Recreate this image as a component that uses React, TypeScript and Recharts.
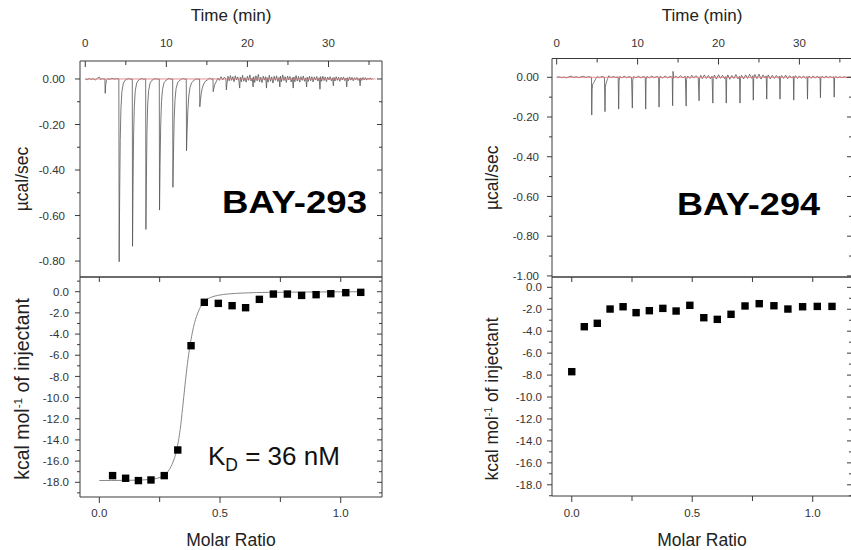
import React from 'react';
import { ComposedChart, Line, Scatter, XAxis, YAxis } from 'recharts';

type Pt = [number, number];

const FONT = '"Liberation Sans", Arial, Helvetica, sans-serif';
const INK = '#222';
const FRAME = '#3a3a3a';

// raw thermogram, BAY-293: [time (min), µcal/sec]
const rawBay293: Pt[] = [
  [0.0, 0.0], [0.25, -0.003], [0.5, 0.002], [0.75, -0.002], [1.0, 0.001], [1.25, -0.004], [1.5, 0.003],
  [1.75, 0.008], [1.9, -0.003], [2.1, 0.002], [2.3, -0.001], [2.42, 0.0], [2.46, -0.063], [2.52, -0.025],
  [2.62, -0.006], [2.8, 0.002], [3.0, -0.002], [3.3, 0.003], [3.6, -0.001], [3.9, 0.002], [4.14, 0.0],
  [4.18, -0.803], [4.24, -0.52], [4.31, -0.27], [4.4, -0.13], [4.52, -0.055], [4.7, -0.018], [4.95, -0.004],
  [5.3, 0.002], [5.6, -0.001], [5.8, 0.0],
  [5.83, -0.735], [5.89, -0.48], [5.96, -0.25], [6.05, -0.12], [6.17, -0.05], [6.35, -0.017], [6.6, -0.004],
  [6.95, 0.002], [7.25, -0.001], [7.45, 0.0],
  [7.48, -0.661], [7.54, -0.44], [7.61, -0.23], [7.7, -0.11], [7.82, -0.05], [8.0, -0.017], [8.25, -0.005],
  [8.6, 0.002], [8.9, -0.001], [9.13, 0.0],
  [9.16, -0.576], [9.22, -0.39], [9.3, -0.21], [9.4, -0.1], [9.53, -0.045], [9.72, -0.016], [9.98, -0.005],
  [10.3, 0.002], [10.6, -0.001], [10.78, 0.0],
  [10.81, -0.476], [10.88, -0.33], [10.96, -0.18], [11.07, -0.09], [11.2, -0.042], [11.4, -0.016], [11.68, -0.005],
  [12.0, 0.002], [12.3, -0.001], [12.46, 0.0],
  [12.49, -0.315], [12.56, -0.23], [12.65, -0.14], [12.77, -0.075], [12.92, -0.037], [13.12, -0.016], [13.4, -0.006],
  [13.7, 0.001], [13.95, -0.002], [14.1, 0.0],
  [14.13, -0.122], [14.2, -0.095], [14.3, -0.065], [14.43, -0.04], [14.6, -0.022], [14.82, -0.01], [15.1, -0.003],
  [15.35, 0.004], [15.6, -0.002], [15.75, 0.002],
  [15.78, -0.056], [15.86, -0.04], [15.98, -0.024], [16.15, -0.012], [16.35, 0.004], [16.55, -0.006], [16.75, 0.01],
  [16.95, -0.004], [17.15, 0.008], [17.35, 0.0],
  [17.4, -0.048], [17.48, -0.02], [17.6, 0.012], [17.75, -0.008], [17.9, 0.015], [18.05, -0.006], [18.2, 0.01],
  [18.35, -0.012], [18.5, 0.014], [18.65, -0.004], [18.8, 0.009], [18.95, -0.01],
  [19.05, -0.04], [19.12, 0.008], [19.25, -0.012], [19.4, 0.016], [19.55, -0.01], [19.7, 0.006], [19.85, -0.014],
  [20.0, 0.012], [20.15, -0.006], [20.3, 0.018], [20.45, -0.009], [20.6, 0.005],
  [20.7, -0.035], [20.78, 0.01], [20.9, -0.015], [21.05, 0.014], [21.2, -0.008], [21.35, 0.02], [21.5, -0.012],
  [21.65, 0.008], [21.8, -0.016], [21.95, 0.012], [22.1, -0.005], [22.25, 0.01],
  [22.35, -0.04], [22.43, 0.006], [22.55, -0.014], [22.7, 0.016], [22.85, -0.01], [23.0, 0.009], [23.15, -0.018],
  [23.3, 0.012], [23.45, -0.006], [23.6, 0.014], [23.75, -0.011], [23.9, 0.007],
  [24.0, -0.035], [24.08, 0.012], [24.2, -0.012], [24.35, 0.018], [24.5, -0.007], [24.65, 0.01], [24.8, -0.015],
  [24.95, 0.013], [25.1, -0.004], [25.25, 0.011], [25.4, -0.013], [25.55, 0.006],
  [25.65, -0.04], [25.73, 0.009], [25.85, -0.012], [26.0, 0.015], [26.15, -0.009], [26.3, 0.011], [26.45, -0.014],
  [26.6, 0.01], [26.75, -0.006], [26.9, 0.013], [27.05, -0.01], [27.2, 0.005],
  [27.3, -0.035], [27.38, 0.008], [27.5, -0.011], [27.65, 0.012], [27.8, -0.008], [27.95, 0.01], [28.1, -0.013],
  [28.25, 0.009], [28.4, -0.005], [28.55, 0.011], [28.7, -0.009], [28.85, 0.006],
  [28.95, -0.045], [29.03, 0.01], [29.15, -0.01], [29.3, 0.012], [29.45, -0.007], [29.6, 0.009], [29.75, -0.012],
  [29.9, 0.008], [30.05, -0.004], [30.2, 0.01], [30.35, -0.008], [30.5, 0.005],
  [30.6, -0.03], [30.68, 0.007], [30.8, -0.009], [30.95, 0.01], [31.1, -0.006], [31.25, 0.008], [31.4, -0.01],
  [31.55, 0.007], [31.7, -0.004], [31.85, 0.009], [32.0, -0.007], [32.15, 0.004],
  [32.25, -0.035], [32.33, 0.006], [32.45, -0.008], [32.6, 0.009], [32.75, -0.005], [32.9, 0.007], [33.05, -0.008],
  [33.2, 0.006], [33.35, -0.003], [33.5, 0.007], [33.65, -0.006], [33.8, 0.003],
  [33.9, -0.03], [33.98, 0.005], [34.1, -0.006], [34.25, 0.007], [34.4, -0.004], [34.55, 0.006], [34.7, -0.005],
  [34.85, 0.004], [35.0, -0.002], [35.15, 0.005], [35.3, -0.003], [35.45, 0.002],
];

// raw thermogram, BAY-294
const rawBay294: Pt[] = [
  [0.0, 0.0], [0.3, 0.002], [0.6, -0.002], [0.9, 0.001], [1.2, -0.003], [1.5, 0.002], [1.8, 0.006], [2.1, -0.001],
  [2.4, 0.003], [2.7, -0.002], [3.0, 0.002], [3.3, 0.005], [3.6, -0.001], [3.9, 0.003], [4.3, 0.0],
  [4.33, -0.19], [4.38, -0.06], [4.45, -0.035], [4.6, -0.025], [4.8, -0.01], [5.0, 0.003], [5.3, -0.002], [5.6, 0.004], [5.9, 0.0],
  [5.97, -0.173], [6.02, -0.05], [6.1, -0.03], [6.25, -0.012], [6.45, 0.008], [6.7, -0.002], [7.0, 0.004], [7.3, -0.001], [7.6, 0.002],
  [7.66, -0.16], [7.71, -0.02], [7.8, 0.004], [8.05, -0.003], [8.35, 0.005], [8.65, -0.002], [8.95, 0.003], [9.25, -0.001],
  [9.35, -0.155], [9.4, -0.015], [9.5, 0.003], [9.8, -0.002], [10.1, 0.005], [10.4, -0.003], [10.7, 0.004], [10.95, 0.0],
  [11.0, -0.16], [11.05, -0.012], [11.15, 0.004], [11.45, -0.003], [11.75, 0.006], [12.05, -0.002], [12.35, 0.004], [12.6, 0.0],
  [12.65, -0.15], [12.7, -0.01], [12.8, 0.005], [13.1, -0.004], [13.4, 0.007], [13.7, -0.003], [14.0, 0.004], [14.28, 0.0],
  [14.33, -0.143], [14.38, 0.03], [14.45, -0.005], [14.7, 0.006], [15.0, -0.004], [15.3, 0.008], [15.6, -0.003], [15.9, 0.005],
  [16.0, -0.145], [16.05, -0.01], [16.2, 0.006], [16.45, -0.006], [16.7, 0.01], [16.95, -0.004], [17.2, 0.008], [17.5, -0.003],
  [17.6, -0.118], [17.65, -0.008], [17.8, 0.01], [18.0, -0.007], [18.25, 0.012], [18.5, -0.006], [18.75, 0.009], [19.0, -0.008], [19.2, 0.006],
  [19.3, -0.13], [19.35, -0.006], [19.5, 0.011], [19.75, -0.009], [20.0, 0.013], [20.25, -0.005], [20.5, 0.01], [20.75, -0.007], [20.9, 0.004],
  [20.96, -0.13], [21.01, -0.008], [21.15, 0.012], [21.4, -0.01], [21.65, 0.009], [21.9, -0.006], [22.15, 0.014], [22.4, -0.008], [22.6, 0.005],
  [22.66, -0.13], [22.71, -0.005], [22.85, 0.01], [23.1, -0.008], [23.35, 0.012], [23.6, -0.006], [23.85, 0.015], [24.1, -0.005], [24.25, 0.008],
  [24.3, -0.115], [24.35, -0.004], [24.5, 0.014], [24.75, -0.007], [25.0, 0.016], [25.25, -0.009], [25.5, 0.012], [25.75, -0.004], [25.9, 0.007],
  [25.96, -0.11], [26.01, -0.006], [26.15, 0.012], [26.4, -0.008], [26.65, 0.01], [26.9, -0.006], [27.15, 0.009], [27.4, -0.005], [27.55, 0.006],
  [27.6, -0.11], [27.65, -0.004], [27.8, 0.009], [28.05, -0.006], [28.3, 0.011], [28.55, -0.007], [28.8, 0.008], [29.05, -0.004], [29.25, 0.005],
  [29.3, -0.115], [29.35, -0.005], [29.5, 0.008], [29.75, -0.006], [30.0, 0.007], [30.25, -0.005], [30.5, 0.006], [30.75, -0.004], [30.95, 0.004],
  [31.0, -0.11], [31.05, -0.004], [31.2, 0.006], [31.45, -0.005], [31.7, 0.007], [31.95, -0.004], [32.2, 0.005], [32.45, -0.003], [32.55, 0.003],
  [32.6, -0.103], [32.65, -0.004], [32.8, 0.005], [33.05, -0.004], [33.3, 0.006], [33.55, -0.003], [33.8, 0.004], [34.05, -0.002], [34.25, 0.003],
  [34.3, -0.1], [34.35, -0.003], [34.5, 0.004], [34.75, -0.003], [35.0, 0.003], [35.25, -0.002], [35.5, 0.002], [35.9, -0.001], [36.4, 0.0],
];

const baseline293: Pt[] = [[0, 0], [35.8, 0]];
const baseline294: Pt[] = [[0, 0], [36.4, 0]];

// integrated heats: [molar ratio, kcal/mol of injectant]
const heatsBay293: Pt[] = [
  [0.055, -17.37], [0.109, -17.62], [0.162, -17.84], [0.214, -17.78], [0.269, -17.37], [0.325, -14.95],
  [0.38, -5.1], [0.435, -1.0], [0.493, -1.1], [0.55, -1.32], [0.606, -1.51], [0.663, -0.72], [0.721, -0.22],
  [0.779, -0.22], [0.838, -0.35], [0.898, -0.28], [0.959, -0.19], [1.021, -0.09], [1.083, -0.06],
];
const fitBay293: Pt[] = [
  [0.0, -17.83], [0.05, -17.83], [0.1, -17.82], [0.15, -17.8], [0.2, -17.75], [0.24, -17.62], [0.27, -17.3],
  [0.29, -16.8], [0.305, -16.1], [0.32, -15.0], [0.335, -13.0], [0.345, -11.0], [0.355, -8.8], [0.365, -6.8],
  [0.375, -5.2], [0.385, -3.9], [0.395, -2.9], [0.41, -1.9], [0.425, -1.2], [0.44, -0.8], [0.46, -0.55],
  [0.49, -0.35], [0.53, -0.22], [0.6, -0.12], [0.7, -0.06], [0.85, -0.03], [1.0, -0.01], [1.09, 0.0],
];
const heatsBay294: Pt[] = [
  [0.0, -7.69], [0.052, -3.59], [0.106, -3.28], [0.159, -1.98], [0.213, -1.77], [0.267, -2.31], [0.322, -2.13],
  [0.378, -1.92], [0.433, -2.16], [0.49, -1.64], [0.548, -2.77], [0.604, -2.92], [0.661, -2.46], [0.719, -1.7],
  [0.778, -1.49], [0.839, -1.68], [0.897, -1.98], [0.958, -1.77], [1.019, -1.74], [1.08, -1.74],
];

// ticks
const timeTicks = [0, 5, 10, 15, 20, 25, 30, 35];
const timeMajor = [0, 10, 20, 30];
const ratioTicks = [0, 0.25, 0.5, 0.75, 1.0];
const ratioMajor = [0, 0.5, 1.0];
const rawTicks293 = [0, -0.1, -0.2, -0.3, -0.4, -0.5, -0.6, -0.7, -0.8];
const rawTicks294 = [0, -0.1, -0.2, -0.3, -0.4, -0.5, -0.6, -0.7, -0.8, -0.9, -1.0];
const rawMajor = [0, -0.2, -0.4, -0.6, -0.8, -1.0];
const heatTicks293 = [1, 0, -1, -2, -3, -4, -5, -6, -7, -8, -9, -10, -11, -12, -13, -14, -15, -16, -17, -18, -19];
const heatTicks294 = [0, -1, -2, -3, -4, -5, -6, -7, -8, -9, -10, -11, -12, -13, -14, -15, -16, -17, -18, -19];
const heatMajor = [0, -2, -4, -6, -8, -10, -12, -14, -16, -18];

const rows = (pts: Pt[]) => pts.map(([x, y]) => ({ x, y }));
const near = (a: number, b: number) => Math.abs(a - b) < 1e-6;

type Side = 'left' | 'right' | 'top' | 'bottom';

interface TickOpts {
  side: Side;
  out: boolean;
  major: number[];
  len: number;
  minorLen: number;
  fmt?: (v: number) => string;
  gap?: number;
}

function tickRenderer(o: TickOpts) {
  return (props: any) => {
    const x = Number(props.x);
    const y = Number(props.y);
    const v = Number(props.payload.value);
    const isMajor = o.major.some((m) => near(m, v));
    const len = isMajor ? o.len : o.minorLen;
    const horiz = o.side === 'left' || o.side === 'right';
    const outward = o.side === 'left' || o.side === 'top' ? -1 : 1;
    const d = (o.out ? outward : -outward) * len;
    const g = o.gap ?? 0;
    const common = { fontSize: 11.5, fill: '#333', fontFamily: FONT };
    let label: React.ReactNode = null;
    if (o.fmt && isMajor) {
      if (o.side === 'left') {
        label = <text x={x - g} y={y} dy="0.36em" textAnchor="end" {...common}>{o.fmt(v)}</text>;
      } else if (o.side === 'top') {
        label = <text x={x} y={y - g} textAnchor="middle" {...common}>{o.fmt(v)}</text>;
      } else if (o.side === 'bottom') {
        label = <text x={x} y={y + g} textAnchor="middle" {...common}>{o.fmt(v)}</text>;
      }
    }
    return (
      <g>
        <line x1={x} y1={y} x2={horiz ? x + d : x} y2={horiz ? y : y + d} stroke={FRAME} strokeWidth={1} />
        {label}
      </g>
    );
  };
}

const frameLine = { stroke: FRAME, strokeWidth: 1 };

const squareDot = (p: any) => (
  <rect x={p.cx - 3.7} y={p.cy - 3.7} width={7.4} height={7.4} fill="#000" />
);

function KcalTitle(props: any) {
  const { viewBox, cx, dy, size } = props;
  const cy = viewBox.y + viewBox.height / 2 + dy;
  return (
    <text
      transform={`translate(${cx},${cy}) rotate(-90)`}
      textAnchor="middle"
      dy="0.36em"
      fontSize={size}
      fill={INK}
      fontFamily={FONT}
    >
      kcal mol
      <tspan dy={-size * 0.38} fontSize={size * 0.6}>-1</tspan>
      <tspan dy={size * 0.38}> of injectant</tspan>
    </text>
  );
}

interface RawProps {
  width: number;
  yAxisWidth: number;
  rightWidth: number;
  plotTop: number;
  trace: Pt[];
  baseline: Pt[];
  xDomain: [number, number];
  yDomain: [number, number];
  yTicks: number[];
  yGap: number;
  tGap: number;
  titleOffset: number;
}

function RawPanel(p: RawProps) {
  return (
    <ComposedChart width={p.width} height={282} margin={{ top: 0, right: 0, bottom: 0, left: 0 }}>
      <XAxis
        xAxisId="t"
        orientation="top"
        type="number"
        dataKey="x"
        height={p.plotTop}
        domain={p.xDomain}
        allowDataOverflow
        ticks={timeTicks}
        interval={0}
        tickSize={0}
        tickMargin={0}
        tickLine={false}
        axisLine={frameLine}
        tick={tickRenderer({ side: 'top', out: false, major: timeMajor, len: 6, minorLen: 4, fmt: (v) => String(v), gap: p.tGap })}
        label={{ value: 'Time (min)', position: 'insideTop', offset: 9, fontSize: 17, fill: INK, fontFamily: FONT }}
      />
      <XAxis
        xAxisId="tb"
        orientation="bottom"
        type="number"
        dataKey="x"
        height={5}
        domain={p.xDomain}
        allowDataOverflow
        tick={false}
        tickLine={false}
        axisLine={frameLine}
      />
      <YAxis
        yAxisId="v"
        type="number"
        dataKey="y"
        width={p.yAxisWidth}
        domain={p.yDomain}
        allowDataOverflow
        ticks={p.yTicks}
        interval={0}
        tickSize={0}
        tickMargin={0}
        tickLine={false}
        axisLine={frameLine}
        tick={tickRenderer({ side: 'left', out: true, major: rawMajor, len: 5, minorLen: 3, fmt: (v) => v.toFixed(2), gap: p.yGap })}
        label={{
          value: 'µcal/sec',
          angle: -90,
          position: 'insideLeft',
          offset: p.titleOffset,
          dy: 10,
          fontSize: 17.5,
          fill: INK,
          fontFamily: FONT,
          style: { textAnchor: 'middle' },
        }}
      />
      <YAxis
        yAxisId="vr"
        orientation="right"
        type="number"
        dataKey="y"
        width={p.rightWidth}
        domain={p.yDomain}
        allowDataOverflow
        ticks={p.yTicks}
        interval={0}
        tickSize={0}
        tickMargin={0}
        tickLine={false}
        axisLine={frameLine}
        tick={tickRenderer({ side: 'right', out: false, major: rawMajor, len: 5, minorLen: 3 })}
      />
      <Line
        xAxisId="t"
        yAxisId="v"
        data={rows(p.trace)}
        dataKey="y"
        type="linear"
        stroke="#555"
        strokeWidth={0.8}
        dot={false}
        isAnimationActive={false}
      />
      <Line
        xAxisId="t"
        yAxisId="v"
        data={rows(p.baseline)}
        dataKey="y"
        type="linear"
        stroke="#e57a7a"
        strokeWidth={1}
        strokeOpacity={0.85}
        dot={false}
        isAnimationActive={false}
      />
    </ComposedChart>
  );
}

interface HeatProps {
  width: number;
  yAxisWidth: number;
  rightWidth: number;
  bottomHeight: number;
  heats: Pt[];
  fit?: Pt[];
  xDomain: [number, number];
  yDomain: [number, number];
  yTicks: number[];
  yGap: number;
  rGap: number;
  titleX: number;
  titleDy: number;
  titleSize: number;
}

function HeatPanel(p: HeatProps) {
  return (
    <ComposedChart width={p.width} height={300} margin={{ top: 0, right: 0, bottom: 0, left: 0 }}>
      <XAxis
        xAxisId="rt"
        orientation="top"
        type="number"
        dataKey="x"
        height={27}
        domain={p.xDomain}
        allowDataOverflow
        ticks={ratioTicks}
        interval={0}
        tickSize={0}
        tickMargin={0}
        tickLine={false}
        axisLine={frameLine}
        tick={tickRenderer({ side: 'top', out: false, major: ratioTicks, len: 5, minorLen: 5 })}
      />
      <XAxis
        xAxisId="r"
        orientation="bottom"
        type="number"
        dataKey="x"
        height={p.bottomHeight}
        domain={p.xDomain}
        allowDataOverflow
        ticks={ratioTicks}
        interval={0}
        tickSize={0}
        tickMargin={0}
        tickLine={false}
        axisLine={frameLine}
        tick={tickRenderer({ side: 'bottom', out: true, major: ratioMajor, len: 6, minorLen: 5, fmt: (v) => v.toFixed(1), gap: p.rGap })}
        label={{ value: 'Molar Ratio', position: 'insideBottom', offset: 4, fontSize: 17.5, fill: INK, fontFamily: FONT }}
      />
      <YAxis
        yAxisId="h"
        type="number"
        dataKey="y"
        width={p.yAxisWidth}
        domain={p.yDomain}
        allowDataOverflow
        ticks={p.yTicks}
        interval={0}
        tickSize={0}
        tickMargin={0}
        tickLine={false}
        axisLine={frameLine}
        tick={tickRenderer({ side: 'left', out: true, major: heatMajor, len: 5, minorLen: 3, fmt: (v) => v.toFixed(1), gap: p.yGap })}
        label={<KcalTitle cx={p.titleX} dy={p.titleDy} size={p.titleSize} />}
      />
      <YAxis
        yAxisId="hr"
        orientation="right"
        type="number"
        dataKey="y"
        width={p.rightWidth}
        domain={p.yDomain}
        allowDataOverflow
        ticks={p.yTicks}
        interval={0}
        tickSize={0}
        tickMargin={0}
        tickLine={false}
        axisLine={frameLine}
        tick={tickRenderer({ side: 'right', out: false, major: heatMajor, len: 5, minorLen: 3 })}
      />
      {p.fit && (
        <Line
          xAxisId="r"
          yAxisId="h"
          data={rows(p.fit)}
          dataKey="y"
          type="monotone"
          stroke="#888"
          strokeWidth={1}
          dot={false}
          isAnimationActive={false}
        />
      )}
      <Scatter
        xAxisId="r"
        yAxisId="h"
        data={rows(p.heats)}
        shape={squareDot}
        isAnimationActive={false}
      />
    </ComposedChart>
  );
}

export default function App() {
  return (
    <div
      style={{
        position: 'absolute',
        left: 0,
        top: 0,
        width: 851,
        height: 550,
        overflow: 'hidden',
        background: '#fff',
        fontFamily: FONT,
      }}
    >
      {/* BAY-293 */}
      <div style={{ position: 'absolute', left: 0, top: 0 }}>
        <RawPanel
          width={400}
          yAxisWidth={80}
          rightWidth={18}
          plotTop={61}
          trace={rawBay293}
          baseline={baseline293}
          xDomain={[-0.65, 36.6]}
          yDomain={[-0.87, 0.079]}
          yTicks={rawTicks293}
          yGap={15}
          tGap={14}
          titleOffset={22}
        />
      </div>
      <div style={{ position: 'absolute', left: 0, top: 250 }}>
        <HeatPanel
          width={400}
          yAxisWidth={80}
          rightWidth={18}
          bottomHeight={53}
          heats={heatsBay293}
          fit={fitBay293}
          xDomain={[-0.08, 1.171]}
          yDomain={[-19.39, 1.39]}
          yTicks={heatTicks293}
          yGap={11}
          rGap={20}
          titleX={22}
          titleDy={2}
          titleSize={19.5}
        />
      </div>

      {/* BAY-294 */}
      <div style={{ position: 'absolute', left: 420, top: 0 }}>
        <RawPanel
          width={442}
          yAxisWidth={132}
          rightWidth={10}
          plotTop={58.5}
          trace={rawBay294}
          baseline={baseline294}
          xDomain={[-0.58, 36.5]}
          yDomain={[-1.0055, 0.0946]}
          yTicks={rawTicks294}
          yGap={13}
          tGap={12}
          titleOffset={72}
        />
      </div>
      <div style={{ position: 'absolute', left: 420, top: 250 }}>
        <HeatPanel
          width={442}
          yAxisWidth={132}
          rightWidth={10}
          bottomHeight={54}
          heats={heatsBay294}
          xDomain={[-0.082, 1.163]}
          yDomain={[-19.02, 0.94]}
          yTicks={heatTicks294}
          yGap={10}
          rGap={21}
          titleX={72}
          titleDy={12.5}
          titleSize={17.5}
        />
      </div>

      {/* annotations */}
      <svg
        width={851}
        height={550}
        style={{ position: 'absolute', left: 0, top: 0, pointerEvents: 'none' }}
      >
        <text x={222} y={213} fontSize={31} fontWeight="bold" fill="#000" fontFamily={FONT} textLength={145} lengthAdjust="spacingAndGlyphs">
          BAY-293
        </text>
        <text x={677} y={215} fontSize={32} fontWeight="bold" fill="#000" fontFamily={FONT} textLength={143} lengthAdjust="spacingAndGlyphs">
          BAY-294
        </text>
        <text x={208} y={465} fontSize={26} fill="#111" fontFamily={FONT}>
          K
          <tspan fontSize={17.5} dy={6}>D</tspan>
          <tspan dy={-6}> = 36 nM</tspan>
        </text>
      </svg>
    </div>
  );
}
